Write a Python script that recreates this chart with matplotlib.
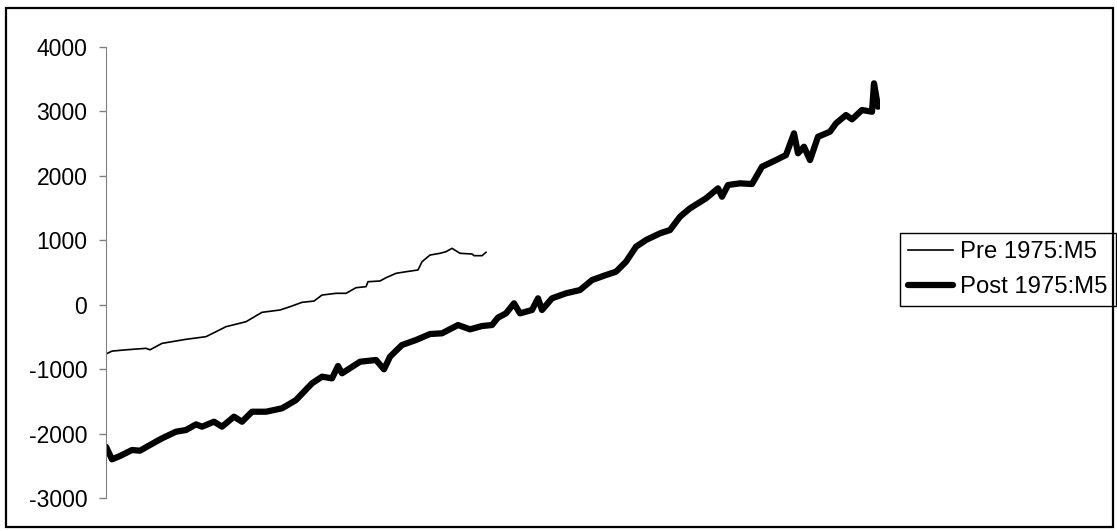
import matplotlib
matplotlib.use("Agg")
import matplotlib.pyplot as plt
from matplotlib.patches import Rectangle

plt.rcParams["font.family"] = ["Liberation Sans", "DejaVu Sans"]
plt.rcParams["axes.unicode_minus"] = False

# 月份序号（相对起点）与数值
pre_month = [0, 3, 10, 20, 22, 28, 40, 50, 60, 70, 78, 87, 92, 98, 104, 108,
             115, 120, 125, 130, 131, 137, 140, 145, 150, 156, 158, 162, 167,
             170, 173, 177, 183, 184, 188, 190]
pre_value = [-765, -720, -700, -677, -700, -600, -537, -496, -341, -264, -118,
             -82, -31, 37, 57, 150, 177, 177, 264, 280, 357, 368, 419, 487, 512,
             539, 667, 771, 798, 823, 875, 798, 787, 761, 761, 813]

post_month = [0, 3, 7, 13, 17, 22, 28, 35, 40, 45, 48, 54, 58, 64, 68, 73, 80,
              88, 95, 103, 108, 113, 116, 118, 127, 135, 139, 142, 148, 155, 162,
              168, 176, 182, 188, 193, 196, 200, 204, 207, 213, 216, 218, 223,
              230, 237, 243, 250, 255, 260, 265, 270, 277, 282, 287, 292, 296,
              300, 306, 308, 311, 317, 323, 328, 335, 340, 344, 346, 349, 352,
              356, 362, 365, 370, 373, 378, 383, 384, 386]
post_value = [-2204, -2400, -2348, -2255, -2266, -2177, -2074, -1971, -1945,
              -1857, -1893, -1816, -1893, -1738, -1816, -1661, -1661, -1608,
              -1480, -1220, -1117, -1143, -951, -1065, -885, -858, -1003, -807,
              -625, -548, -455, -444, -315, -382, -331, -315, -200, -134, 22,
              -134, -82, 99, -82, 99, 177, 228, 383, 461, 512, 667, 900, 1004,
              1108, 1159, 1366, 1496, 1574, 1651, 1806, 1676, 1858, 1884, 1873,
              2142, 2245, 2323, 2660, 2350, 2452, 2245, 2607, 2685, 2815, 2944,
              2877, 3022, 2995, 3436, 3073]

y_ticks = [-3000, -2000, -1000, 0, 1000, 2000, 3000, 4000]

W, H = 1117, 531
fig = plt.figure(figsize=(W / 100, H / 100), dpi=100)
ax = fig.add_axes([106 / W, 1 - 498 / H, (880 - 106) / W, (498 - 47) / H])

ax.plot(pre_month, pre_value, color="black", lw=1.2, label="Pre 1975:M5")
ax.plot(post_month, post_value, color="black", lw=4.5, label="Post 1975:M5",
        solid_joinstyle="round", solid_capstyle="round")

ax.set_xlim(0, 387)
ax.set_ylim(-3000, 4000)
ax.set_yticks(y_ticks)
ax.set_xticks([])
for s in ["top", "right", "bottom"]:
    ax.spines[s].set_visible(False)
ax.spines["left"].set_color("#808080")
ax.tick_params(axis="y", length=5, width=1, color="#808080", pad=8.5,
               labelsize=16.5)

leg = ax.legend(loc="upper left", bbox_to_anchor=(900 / W, 1 - 233 / H),
                bbox_transform=fig.transFigure, fontsize=17.2, fancybox=False,
                edgecolor="black", framealpha=1, borderaxespad=0, borderpad=0.33,
                handlelength=1.9, handletextpad=0.3, labelspacing=0.55)
leg.get_frame().set_linewidth(1.0)

# 外边框
fig.patches.append(Rectangle((6 / W, 1 - 527 / H), (1113 - 6) / W, (527 - 8) / H,
                             transform=fig.transFigure, fill=False,
                             edgecolor="black", lw=1.6))

fig.savefig("out.png", dpi=100)
